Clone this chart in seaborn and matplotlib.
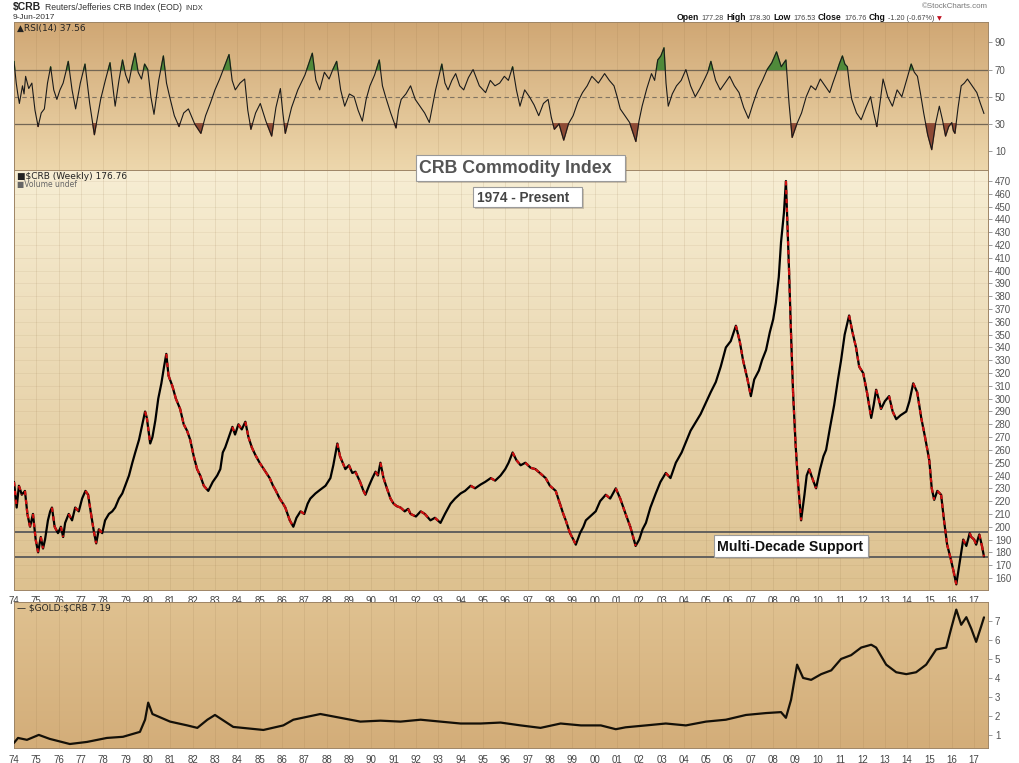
import numpy as np
import pandas as pd
import matplotlib
matplotlib.use("Agg")
import matplotlib.pyplot as plt
from matplotlib.patches import Rectangle
import seaborn as sns

# ---------------- data ----------------
rsi_year = [1974.00, 1974.05, 1974.10, 1974.17, 1974.24, 1974.38, 1974.45, 1974.52, 1974.66, 1974.80,
            1974.94, 1975.08, 1975.22, 1975.36, 1975.50, 1975.64, 1975.78, 1975.92, 1976.06, 1976.20,
            1976.32, 1976.43, 1976.60, 1976.76, 1976.97, 1977.18, 1977.39, 1977.60, 1977.74, 1977.88,
            1978.09, 1978.30, 1978.42, 1978.53, 1978.70, 1978.86, 1979.00, 1979.14, 1979.28, 1979.42,
            1979.56, 1979.71, 1979.85, 1979.99, 1980.13, 1980.27, 1980.48, 1980.69, 1980.83, 1980.97,
            1981.18, 1981.39, 1981.60, 1981.81, 1982.09, 1982.37, 1982.58, 1982.79, 1983.00, 1983.21,
            1983.42, 1983.63, 1983.77, 1983.91, 1984.12, 1984.33, 1984.47, 1984.61, 1984.82, 1985.03,
            1985.28, 1985.54, 1985.73, 1985.93, 1986.04, 1986.15, 1986.43, 1986.71, 1987.03, 1987.36,
            1987.52, 1987.69, 1987.90, 1988.11, 1988.28, 1988.45, 1988.63, 1988.81, 1989.02, 1989.23,
            1989.41, 1989.60, 1989.77, 1989.94, 1990.15, 1990.36, 1990.50, 1990.64, 1990.87, 1991.11,
            1991.22, 1991.34, 1991.55, 1991.76, 1991.97, 1992.18, 1992.39, 1992.60, 1992.88, 1993.16,
            1993.30, 1993.44, 1993.61, 1993.78, 1993.96, 1994.14, 1994.35, 1994.56, 1994.84, 1995.12,
            1995.33, 1995.54, 1995.75, 1995.96, 1996.14, 1996.33, 1996.50, 1996.66, 1996.87, 1997.08,
            1997.29, 1997.50, 1997.71, 1997.92, 1998.06, 1998.20, 1998.41, 1998.62, 1998.83, 1999.04,
            1999.25, 1999.46, 1999.67, 1999.88, 2000.17, 2000.45, 2000.66, 2000.87, 2001.01, 2001.15,
            2001.36, 2001.57, 2001.71, 2001.85, 2001.99, 2002.13, 2002.34, 2002.55, 2002.69, 2002.83,
            2002.97, 2003.11, 2003.20, 2003.30, 2003.48, 2003.67, 2003.88, 2004.09, 2004.30, 2004.51,
            2004.72, 2004.93, 2005.07, 2005.21, 2005.42, 2005.63, 2005.84, 2006.05, 2006.26, 2006.47,
            2006.68, 2006.89, 2007.10, 2007.31, 2007.52, 2007.73, 2007.94, 2008.15, 2008.36, 2008.57,
            2008.71, 2008.85, 2009.06, 2009.27, 2009.48, 2009.69, 2009.90, 2010.11, 2010.32, 2010.53,
            2010.67, 2010.82, 2010.96, 2011.10, 2011.21, 2011.32, 2011.42, 2011.52, 2011.73, 2011.94,
            2012.15, 2012.36, 2012.50, 2012.64, 2012.78, 2012.92, 2013.13, 2013.34, 2013.55, 2013.76,
            2013.97, 2014.18, 2014.32, 2014.46, 2014.60, 2014.74, 2014.92, 2015.10, 2015.27, 2015.44,
            2015.58, 2015.72, 2015.86, 2016.00, 2016.07, 2016.14, 2016.28, 2016.42, 2016.56, 2016.70,
            2016.91, 2017.12, 2017.28, 2017.44]
rsi_value = [76, 68, 60, 52, 45, 58, 52, 65, 56, 60,
             40, 28, 38, 41, 60, 72, 55, 48, 55, 60,
             68, 76, 55, 41, 60, 74, 45, 22, 35, 48,
             62, 75, 58, 43, 62, 77, 66, 60, 72, 82,
             68, 63, 74, 70, 50, 37, 62, 80, 60, 50,
             36, 28, 38, 41, 30, 23, 36, 45, 55, 63,
             72, 81, 62, 55, 60, 63, 40, 26, 38, 45,
             32, 21, 42, 56, 38, 23, 42, 55, 66, 82,
             62, 55, 68, 63, 70, 76, 55, 43, 52, 50,
             40, 32, 48, 58, 66, 77, 58, 50, 38, 27,
             40, 48, 52, 58, 48, 43, 38, 31, 55, 74,
             60, 55, 62, 67, 58, 55, 64, 70, 58, 53,
             62, 58, 60, 65, 62, 72, 55, 43, 55, 50,
             44, 36, 45, 48, 35, 26, 30, 18, 30, 36,
             46, 53, 58, 65, 60, 67, 62, 58, 50, 41,
             36, 31, 24, 17, 32, 43, 56, 67, 62, 77,
             80, 86, 60, 43, 52, 58, 62, 70, 58, 50,
             56, 63, 68, 76, 62, 55, 60, 65, 58, 53,
             42, 34, 45, 55, 62, 70, 75, 83, 72, 77,
             45, 20, 30, 38, 50, 58, 55, 63, 58, 53,
             60, 67, 74, 80, 74, 72, 58, 48, 38, 33,
             42, 50, 38, 28, 45, 63, 50, 43, 55, 50,
             62, 74, 68, 65, 52, 38, 22, 11, 30, 43,
             33, 21, 28, 31, 25, 23, 42, 58, 60, 63,
             58, 53, 45, 37.56]

crb_year = [1974.00, 1974.12, 1974.22, 1974.35, 1974.49, 1974.60, 1974.72, 1974.85, 1974.97, 1975.08,
            1975.20, 1975.30, 1975.39, 1975.52, 1975.62, 1975.70, 1975.82, 1975.97, 1976.10, 1976.20,
            1976.29, 1976.45, 1976.60, 1976.74, 1976.90, 1977.05, 1977.20, 1977.32, 1977.45, 1977.58,
            1977.68, 1977.80, 1977.95, 1978.08, 1978.25, 1978.40, 1978.53, 1978.70, 1978.85, 1978.98,
            1979.15, 1979.30, 1979.43, 1979.60, 1979.75, 1979.87, 1979.95, 1980.10, 1980.20, 1980.33,
            1980.46, 1980.60, 1980.72, 1980.82, 1980.92, 1981.09, 1981.25, 1981.44, 1981.60, 1981.75,
            1981.89, 1982.05, 1982.20, 1982.34, 1982.50, 1982.70, 1982.90, 1983.10, 1983.24, 1983.35,
            1983.46, 1983.62, 1983.78, 1983.90, 1984.05, 1984.20, 1984.36, 1984.50, 1984.65, 1984.81,
            1985.00, 1985.15, 1985.26, 1985.45, 1985.60, 1985.70, 1985.90, 1986.05, 1986.15, 1986.35,
            1986.51, 1986.65, 1986.83, 1987.00, 1987.15, 1987.27, 1987.50, 1987.72, 1987.95, 1988.17,
            1988.30, 1988.48, 1988.60, 1988.72, 1988.84, 1989.00, 1989.15, 1989.29, 1989.50, 1989.65,
            1989.74, 1989.90, 1990.05, 1990.19, 1990.30, 1990.41, 1990.55, 1990.70, 1990.86, 1991.00,
            1991.15, 1991.31, 1991.50, 1991.65, 1991.76, 1992.00, 1992.21, 1992.40, 1992.65, 1992.85,
            1993.10, 1993.30, 1993.55, 1993.75, 1994.00, 1994.20, 1994.45, 1994.65, 1994.90, 1995.10,
            1995.35, 1995.55, 1995.79, 1996.00, 1996.15, 1996.33, 1996.50, 1996.69, 1996.90, 1997.14,
            1997.35, 1997.55, 1997.81, 1998.00, 1998.26, 1998.45, 1998.60, 1998.71, 1998.90, 1999.05,
            1999.16, 1999.35, 1999.50, 1999.61, 1999.80, 2000.05, 2000.25, 2000.50, 2000.70, 2000.95,
            2001.15, 2001.39, 2001.60, 2001.84, 2002.00, 2002.15, 2002.30, 2002.50, 2002.74, 2002.95,
            2003.19, 2003.40, 2003.64, 2003.90, 2004.09, 2004.30, 2004.54, 2004.75, 2004.99, 2005.20,
            2005.43, 2005.65, 2005.88, 2006.10, 2006.33, 2006.50, 2006.65, 2006.85, 2007.00, 2007.15,
            2007.36, 2007.50, 2007.68, 2007.85, 2008.00, 2008.12, 2008.25, 2008.35, 2008.48, 2008.57,
            2008.65, 2008.71, 2008.80, 2008.89, 2009.00, 2009.11, 2009.25, 2009.40, 2009.50, 2009.61,
            2009.75, 2009.92, 2010.10, 2010.25, 2010.37, 2010.55, 2010.73, 2010.90, 2011.04, 2011.20,
            2011.40, 2011.55, 2011.71, 2011.85, 2012.03, 2012.20, 2012.39, 2012.50, 2012.61, 2012.72,
            2012.83, 2013.00, 2013.19, 2013.35, 2013.51, 2013.70, 2013.96, 2014.10, 2014.27, 2014.45,
            2014.63, 2014.80, 2014.99, 2015.10, 2015.21, 2015.35, 2015.52, 2015.65, 2015.79, 2015.95,
            2016.08, 2016.20, 2016.35, 2016.51, 2016.65, 2016.80, 2016.87, 2017.00, 2017.09, 2017.23,
            2017.35, 2017.44]
crb_close = [235, 215, 232, 225, 228, 210, 200, 210, 190, 180,
             192, 183, 190, 205, 212, 215, 200, 195, 200, 192,
             203, 210, 205, 215, 212, 222, 228, 225, 210, 196,
             187, 198, 195, 205, 210, 212, 215, 222, 226, 232,
             240, 250, 258, 268, 280, 290, 285, 265, 270, 283,
             300, 312, 325, 335, 318, 310, 300, 292, 280, 275,
             268, 255, 245, 240, 232, 228, 235, 240, 245, 258,
             262, 270, 278, 272, 280, 276, 282, 270, 262, 256,
             250, 246, 243, 238, 232, 229, 222, 218, 215, 205,
             200, 207, 212, 210, 218, 222, 226, 229, 232, 238,
             248, 265, 255, 250, 245, 248, 242, 243, 235, 228,
             225, 232, 238, 243, 240, 250, 238, 230, 222, 218,
             216, 215, 212, 214, 210, 208, 212, 210, 205, 207,
             203, 210, 218, 222, 226, 228, 232, 230, 233, 235,
             238, 236, 240, 245, 250, 258, 252, 248, 250, 246,
             245, 242, 238, 232, 228, 218, 210, 205, 195, 190,
             186, 195, 200, 205, 208, 212, 220, 225, 222, 230,
             222, 210, 200, 185, 190, 198, 203, 215, 226, 235,
             242, 238, 250, 258, 266, 275, 282, 288, 297, 305,
             313, 325, 340, 345, 357, 345, 330, 315, 302, 315,
             322, 330, 338, 352, 362, 375, 395, 422, 445, 470,
             430, 400, 350, 305, 265, 235, 205, 225, 240, 245,
             238, 230, 245, 255, 260, 278, 295, 315, 330, 350,
             365, 352, 340, 325, 320, 305, 285, 295, 307, 300,
             292, 298, 302, 290, 284, 287, 290, 298, 312, 305,
             285, 270, 252, 230, 221, 228, 225, 205, 186, 175,
             165, 155, 172, 190, 185, 195, 192, 190, 186, 194,
             185, 176.76]

ratio_year = [1974.00, 1974.18, 1974.58, 1975.11, 1975.60, 1976.50, 1977.27, 1978.16, 1978.88, 1979.64,
              1979.87, 1980.01, 1980.20, 1980.99, 1981.76, 1982.21, 1982.66, 1983.00, 1983.82, 1985.17,
              1986.06, 1986.51, 1987.72, 1988.62, 1989.51, 1990.41, 1991.31, 1992.21, 1993.10, 1994.00,
              1994.90, 1995.79, 1996.69, 1997.58, 1998.48, 1999.39, 2000.28, 2000.95, 2001.39, 2002.30,
              2003.19, 2004.09, 2004.99, 2005.88, 2006.78, 2007.68, 2008.35, 2008.57, 2008.80, 2009.07,
              2009.34, 2009.70, 2010.15, 2010.60, 2011.04, 2011.49, 2011.94, 2012.39, 2012.61, 2013.06,
              2013.51, 2013.96, 2014.40, 2014.85, 2015.30, 2015.75, 2015.97, 2016.20, 2016.42, 2016.65,
              2016.87, 2017.09, 2017.31, 2017.44]
ratio_value = [0.58, 0.84, 0.74, 1.0, 0.79, 0.52, 0.63, 0.84, 0.9, 1.16,
               1.8, 2.7, 2.1, 1.7, 1.5, 1.37, 1.8, 2.05, 1.42, 1.26,
               1.5, 1.8, 2.1, 1.9, 1.7, 1.75, 1.7, 1.8, 1.7, 1.6,
               1.6, 1.65, 1.5, 1.37, 1.6, 1.5, 1.5, 1.3, 1.4, 1.5,
               1.6, 1.5, 1.7, 1.8, 2.05, 2.15, 2.2, 1.9, 2.85, 4.7,
               4.0, 3.9, 4.2, 4.4, 5.0, 5.2, 5.6, 5.75, 5.6, 4.7,
               4.3, 4.2, 4.3, 4.7, 5.5, 5.6, 6.6, 7.6, 6.8, 7.2,
               6.6, 5.9, 6.7, 7.19]

year_ticks = list(range(1974, 2018))
year_labels = ["%02d" % (y % 100) for y in year_ticks]
rsi_ticks = [10, 30, 50, 70, 90]
crb_ticks = list(range(160, 480, 10))
ratio_ticks = [1, 2, 3, 4, 5, 6, 7]
support_upper = 196
support_lower = 176.5

rsi = pd.DataFrame({"year": rsi_year, "rsi": rsi_value})
crb = pd.DataFrame({"year": crb_year, "close": crb_close})
ratio = pd.DataFrame({"year": ratio_year, "ratio": ratio_value})

# ---------------- figure ----------------
sns.set_style("white")
plt.rcParams['font.family'] = ['Liberation Sans', 'DejaVu Sans']

W, H = 1019, 763
fig = plt.figure(figsize=(W / 100, H / 100), dpi=100)
fig.patch.set_facecolor("white")


def box(x0, y0, x1, y1):
    return [x0 / W, 1 - y1 / H, (x1 - x0) / W, (y1 - y0) / H]


def ftext(x, y, s, **kw):
    return fig.text(x / W, 1 - y / H, s, **kw)


ax_rsi = fig.add_axes(box(14, 22, 988, 170))
ax_crb = fig.add_axes(box(14, 170, 988, 590))
ax_rat = fig.add_axes(box(14, 602, 988, 748))

xlo, xhi = 1974.0, 2017.62
limits = {ax_rsi: (-4, 105), ax_crb: (150.6, 478.6), ax_rat: (0.31, 8.0)}
shades = {ax_rsi: ((208, 167, 116), (237, 215, 172)),
          ax_crb: ((247, 238, 212), (221, 193, 143)),
          ax_rat: ((223, 193, 144), (211, 173, 121))}

for ax in (ax_rsi, ax_crb, ax_rat):
    lo, hi = limits[ax]
    top, bot = shades[ax]
    t = np.linspace(0, 1, 256)[:, None, None]
    img = (np.array(top)[None, None, :] * (1 - t) + np.array(bot)[None, None, :] * t) / 255.0
    ax.imshow(img, extent=[xlo, xhi, lo, hi], aspect="auto", origin="upper", zorder=0)
    ax.set_xlim(xlo, xhi)
    ax.set_ylim(lo, hi)
    for yr in year_ticks:
        ax.axvline(yr, color=(0.55, 0.42, 0.25), lw=0.5, alpha=0.18, zorder=1)
    for s in ax.spines.values():
        s.set_color((0.62, 0.52, 0.40))
        s.set_linewidth(0.7)
    ax.yaxis.tick_right()
    ax.tick_params(axis="y", which="both", right=True, left=False, length=3, width=0.6,
                   color=(0.55, 0.55, 0.55), labelsize=7, labelcolor="#555555", pad=2)

# RSI panel
for lvl in (70, 30):
    ax_rsi.axhline(lvl, color=(0.45, 0.40, 0.33), lw=0.9, zorder=2)
ax_rsi.axhline(50, color=(0.50, 0.45, 0.38), lw=0.8, ls=(0, (4, 3)), zorder=2)
rv = np.array(rsi_value)
ax_rsi.fill_between(rsi_year, rv, 70, where=rv > 70, interpolate=True, color="#4f8a3a", zorder=3)
ax_rsi.fill_between(rsi_year, rv, 30, where=rv < 30, interpolate=True, color="#8e4a35", zorder=3)
sns.lineplot(data=rsi, x="year", y="rsi", ax=ax_rsi, color="#1a1a1a", lw=0.8, zorder=4)
ax_rsi.set_yticks(rsi_ticks)
ax_rsi.set_xticks(year_ticks)
ax_rsi.tick_params(axis="x", bottom=False, labelbottom=False)
ax_rsi.set_xlabel("")
ax_rsi.set_ylabel("")

# CRB panel
for yv in crb_ticks:
    ax_crb.axhline(yv, color=(0.55, 0.42, 0.25), lw=0.5, alpha=0.12, zorder=1)
ax_crb.axhline(support_upper, color=(0.35, 0.35, 0.35), lw=1.3, zorder=2)
ax_crb.axhline(support_lower, color=(0.35, 0.35, 0.35), lw=1.3, zorder=2)
sns.lineplot(data=crb, x="year", y="close", ax=ax_crb, color="black", lw=1.6, zorder=4)
for i in range(len(crb_close) - 1):
    if crb_close[i + 1] < crb_close[i]:
        ax_crb.plot(crb_year[i:i + 2], crb_close[i:i + 2], color="#d01010", lw=1.6,
                    ls=(0, (2, 2)), zorder=5)
ax_crb.set_yticks(crb_ticks)
ax_crb.set_xticks(year_ticks)
ax_crb.set_xticklabels(year_labels)
ax_crb.tick_params(axis="x", bottom=False, labelsize=7, labelcolor="#444444", pad=0.5)
ax_crb.set_xlabel("")
ax_crb.set_ylabel("")

# GOLD:CRB panel
sns.lineplot(data=ratio, x="year", y="ratio", ax=ax_rat, color="#141008", lw=1.6, zorder=4)
ax_rat.set_yticks(ratio_ticks)
ax_rat.set_xticks(year_ticks)
ax_rat.set_xticklabels(year_labels)
ax_rat.tick_params(axis="x", bottom=False, labelsize=7, labelcolor="#444444", pad=1.5)
ax_rat.set_xlabel("")
ax_rat.set_ylabel("")

# ---------------- header texts ----------------
ftext(13, 10, r"\$CRB", fontsize=7.5, fontweight="bold", color="#222222", va="baseline")
ftext(45, 10, "Reuters/Jefferies CRB Index (EOD)", fontsize=6.2, color="#333333", va="baseline")
ftext(185, 10, "INDX", fontsize=5.3, color="#333333", va="baseline")
ftext(13, 19, "9-Jun-2017", fontsize=6, color="#333333", va="baseline")
ftext(988, 8, "\u00a9StockCharts.com", fontsize=5.7, color="#777777", ha="right", va="baseline")

# quote line, laid out piece by piece
renderer = fig.canvas.get_renderer()
hdr = [("Open", True), ("177.28", False), ("High", True), ("178.30", False),
       ("Low", True), ("176.53", False), ("Close", True), ("176.76", False),
       ("Chg", True), ("-1.20 (-0.67%)", False)]
xpos = 677
for s, b in hdr:
    t = ftext(xpos, 20, s, fontsize=6.2 if b else 5.2, fontweight="bold" if b else "normal",
              color="#111111" if b else "#444444", va="baseline")
    xpos += t.get_window_extent(renderer).width + 2.5
ftext(xpos, 20, "\u25bc", fontsize=4.5, color="#c01020", va="baseline", family="DejaVu Sans")

# panel legends
ftext(17, 31, "\u25b2RSI(14) 37.56", fontsize=6.5, color="#222222", va="baseline", family="DejaVu Sans")
ftext(17, 179, "\u25a0\\$CRB (Weekly) 176.76", fontsize=6.5, color="#222222", va="baseline",
      family="DejaVu Sans")
ftext(17, 187, "\u25a0Volume undef", fontsize=5.5, color="#666666", va="baseline", family="DejaVu Sans")
ftext(17, 611, "\u2014 \\$GOLD:\\$CRB 7.19", fontsize=6.5, color="#222222", va="baseline",
      family="DejaVu Sans")


# annotation boxes
def label_box(x0, y0, x1, y1, s, size, color, tx):
    fig.patches.append(Rectangle(((x0 + 2) / W, 1 - (y1 + 2) / H), (x1 - x0) / W, (y1 - y0) / H,
                                 transform=fig.transFigure, fc=(0.5, 0.45, 0.38, 0.35), ec="none", zorder=10))
    fig.patches.append(Rectangle((x0 / W, 1 - y1 / H), (x1 - x0) / W, (y1 - y0) / H,
                                 transform=fig.transFigure, fc="white", ec="#9a9a9a", lw=0.8, zorder=11))
    ftext(tx, (y0 + y1) / 2 + 0.5, s, fontsize=size, fontweight="bold", color=color,
          va="center", zorder=12)


label_box(416, 155, 625, 181, "CRB Commodity Index", 12.8, "#555555", 419)
label_box(473, 187, 582, 207, "1974 - Present", 9.8, "#444444", 477)
label_box(714, 535, 868, 557, "Multi-Decade Support", 10.2, "#111111", 717)

fig.savefig("out.png", dpi=100, facecolor="white")
